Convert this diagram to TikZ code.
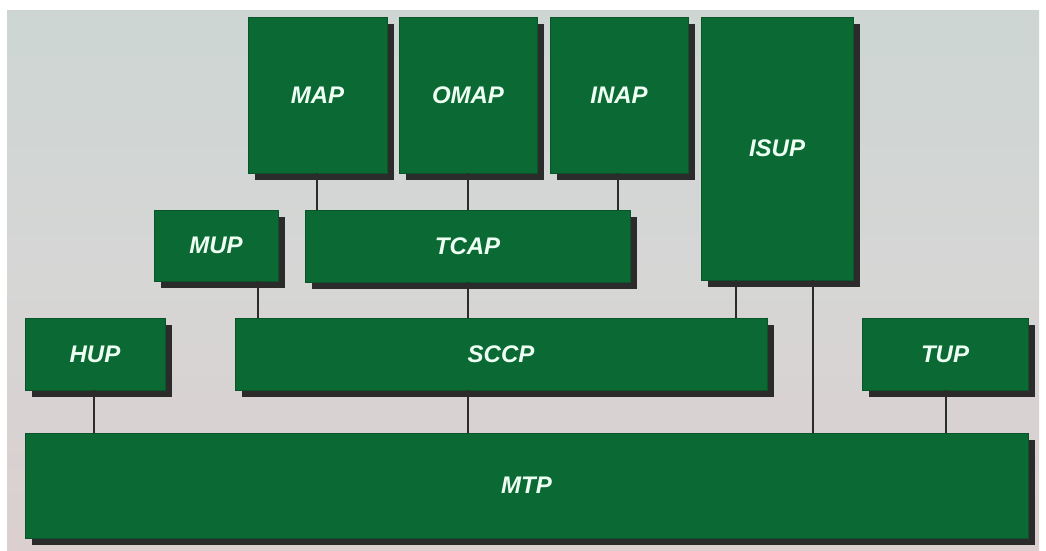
\documentclass[tikz,border=0pt]{standalone}
\usepackage{fontspec}
\setmainfont{Liberation Sans}
\usetikzlibrary{shadows,calc}
\definecolor{boxgreen}{HTML}{0B6A33}
\definecolor{shadowc}{HTML}{2B2B2B}
\definecolor{txtc}{HTML}{EEFFF4}
\definecolor{bgtop}{HTML}{CDD6D3}
\definecolor{bgmid}{HTML}{D6D6D5}
\definecolor{bgbot}{HTML}{DBCFCF}
\tikzset{
  layer/.style={fill=boxgreen, draw=boxgreen!80!black, line width=0.6pt, inner sep=0pt,
    text=txtc, font=\fontsize{24}{28}\selectfont\bfseries\itshape,
    drop shadow={shadow xshift=7pt, shadow yshift=-7pt, fill=shadowc, opacity=1}},
  link/.style={draw=shadowc, line width=1.8pt}
}
\begin{document}
\begin{tikzpicture}[x=1pt,y=-1pt]
\useasboundingbox (0,0) rectangle (1046,550);
\fill[white] (0,0) rectangle (1046,550);
\shade[top color=bgtop, bottom color=bgbot, middle color=bgmid] (7,10) rectangle (1039,550);

\node[layer, minimum width=139pt, minimum height=156pt] (MAP)  at (317.5,95) {MAP};
\node[layer, minimum width=138pt, minimum height=156pt] (OMAP) at (468,95) {OMAP};
\node[layer, minimum width=138pt, minimum height=156pt] (INAP) at (619,95) {INAP};
\node[layer, minimum width=152pt, minimum height=263pt] (ISUP) at (777,148.5) {ISUP};
\node[layer, minimum width=124pt, minimum height=71pt]  (MUP)  at (216,245.5) {MUP};
\node[layer, minimum width=325pt, minimum height=72pt]  (TCAP) at (467.5,246) {TCAP};
\node[layer, minimum width=140pt, minimum height=72pt]  (HUP)  at (95,354) {HUP};
\node[layer, minimum width=532pt, minimum height=72pt]  (SCCP) at (501,354) {SCCP};
\node[layer, minimum width=166pt, minimum height=72pt]  (TUP)  at (945,354) {TUP};
\node[layer, minimum width=1003pt, minimum height=105pt] (MTP) at (526.5,485.5) {MTP};

\draw[link] (MAP.south -| 317,0) -- (TCAP.north -| 317,0);
\draw[link] (OMAP.south -| 468,0) -- (TCAP.north -| 468,0);
\draw[link] (INAP.south -| 618,0) -- (TCAP.north -| 618,0);
\draw[link] (MUP.south -| 258,0) -- (SCCP.north -| 258,0);
\draw[link] (TCAP.south -| 468,0) -- (SCCP.north -| 468,0);
\draw[link] (ISUP.south -| 736,0) -- (SCCP.north -| 736,0);
\draw[link] (ISUP.south -| 813,0) -- (MTP.north -| 813,0);
\draw[link] (HUP.south -| 94,0) -- (MTP.north -| 94,0);
\draw[link] (SCCP.south -| 468,0) -- (MTP.north -| 468,0);
\draw[link] (TUP.south -| 946,0) -- (MTP.north -| 946,0);
\end{tikzpicture}
\end{document}
